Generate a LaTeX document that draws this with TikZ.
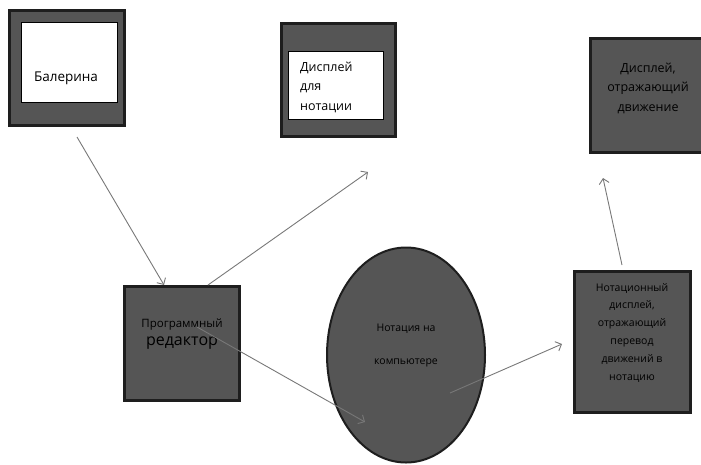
\documentclass[tikz,border=0pt]{standalone}
\usepackage{fontspec}
\setmainfont{Open Sans}
\usetikzlibrary{arrows.meta, positioning, shapes.geometric}
\definecolor{boxfill}{RGB}{85,85,85}
\definecolor{boxedge}{RGB}{30,30,30}
\definecolor{linkgray}{RGB}{120,120,120}

\begin{document}
\begin{tikzpicture}[x=1pt, y=-1pt,
  darkbox/.style={draw=boxedge, line width=3pt, fill=boxfill, inner sep=0pt},
  whitebox/.style={draw=black, line width=0.8pt, fill=white, inner sep=0pt},
  caption/.style={inner sep=0pt, align=center, font=\fontsize{11}{17.8}\selectfont},
  link/.style={draw=linkgray, line width=0.9pt, -{Straight Barb[length=5pt, width=10pt]}}]
  \useasboundingbox (0,0) rectangle (701,464);

  % top row
  \node[darkbox, minimum width=115pt, minimum height=115pt] (ballet) at (67,68) {};
  \node[whitebox, minimum width=96pt, minimum height=80pt] (balletin) at (69,62) {};
  \node[caption, font=\fontsize{13.5}{16}\selectfont] (ballettxt) at (66,78) {Балерина};

  \node[darkbox, minimum width=114pt, minimum height=113pt] (notedisp) at (338.5,80) {};
  \node[whitebox, minimum width=95pt, minimum height=68pt] (notedispin) at (335.5,85) {};
  \node[caption, anchor=west, align=left, font=\fontsize{12.5}{19.5}\selectfont] (notedisptxt) at (300,87) {Дисплей\\для\\нотации};

  \node[darkbox, minimum width=120pt, minimum height=114pt] (movedisp) at (650,95) {};
  \node[caption, font=\fontsize{12.5}{19.5}\selectfont] (movedisptxt) at (648,88) {Дисплей,\\отражающий\\движение};

  % bottom row
  \node[darkbox, minimum width=115pt, minimum height=114pt] (editor) at (182,343.5) {};
  \node[caption, font=\fontsize{11.5}{14}\selectfont] (editortxt) at (182,334) {Программный\\[4pt]{\fontsize{16}{16}\selectfont редактор}};

  \node[ellipse, draw=boxedge, line width=2pt, fill=boxfill, minimum width=158pt, minimum height=215pt] (comp) at (406,355) {};
  \node[caption, font=\fontsize{10.5}{33}\selectfont] (comptxt) at (406,346) {Нотация на\\компьютере};

  \node[darkbox, minimum width=116pt, minimum height=141pt] (mapdisp) at (632.5,342) {};
  \node[caption, font=\fontsize{10.5}{17.8}\selectfont] (mapdisptxt) at (632,332.5) {Нотационный\\дисплей,\\отражающий\\перевод\\движений в\\нотацию};

  % connectors
  \coordinate (balletout) at (77,137);
  \coordinate (noteend) at (368,172);
  \coordinate (editorin) at (197,327);
  \coordinate (compend) at (365,422);
  \coordinate (compout) at (450,393);
  \coordinate (mapend) at (562,344);
  \coordinate (mapout) at (622,265);
  \coordinate (moveend) at (603,178);

  \draw[link] (balletout) -- ([xshift=-18pt]editor.north);
  \draw[link] ([xshift=26pt]editor.north) -- (noteend);
  \draw[link] (editorin) -- (compend);
  \draw[link] (compout) -- (mapend);
  \draw[link] (mapout) -- (moveend);
\end{tikzpicture}
\end{document}
